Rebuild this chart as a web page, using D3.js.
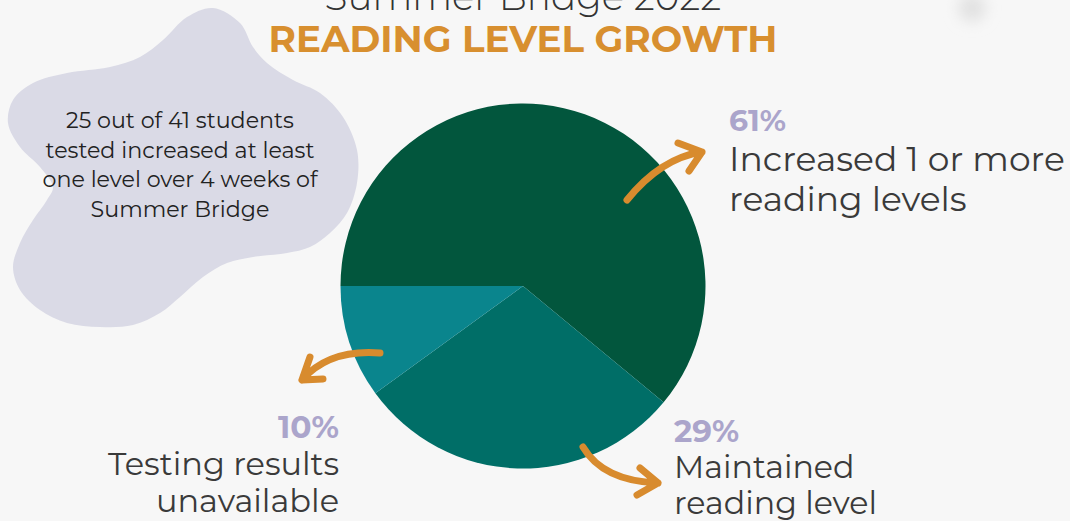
<!DOCTYPE html>
<html>
<head>
<meta charset="utf-8">
<script src="https://cdn.jsdelivr.net/npm/d3@7/dist/d3.min.js"></script>
<style>
  html, body { margin: 0; padding: 0; background: #F7F7F7; }
  svg { display: block; }
</style>
</head>
<body>
<svg id="chart" width="1070" height="521"></svg>
<script>
// ---------- data ----------
const categories = ["Increased 1 or more reading levels", "Maintained reading level", "Testing results unavailable"];
const values = [61, 29, 10];
const percentLabels = ["61%", "29%", "10%"];
const labelLines = [["Increased 1 or more", "reading levels"], ["Maintained", "reading level"], ["Testing results", "unavailable"]];
const titleLines = ["Summer Bridge 2022", "READING LEVEL GROWTH"];
const noteLines = ["25 out of 41 students", "tested increased at least", "one level over 4 weeks of", "Summer Bridge"];

// ---------- styles / layout ----------
const sliceColors = ["#02563D", "#006E67", "#0A858D"];
const FONT = "Montserrat, 'DejaVu Sans', 'Noto Sans', sans-serif";
const W = 1070, H = 521;
const cx = 523, cy = 286, R = 182.5;

const svg = d3.select("#chart");
svg.append("rect").attr("width", W).attr("height", H).attr("fill", "#F7F7F7");

const defs = svg.append("defs");
defs.append("filter").attr("id", "blur").attr("x", "-100%").attr("y", "-100%").attr("width", "300%").attr("height", "300%")
  .append("feGaussianBlur").attr("stdDeviation", 7);
svg.append("ellipse").attr("cx", 972).attr("cy", 8).attr("rx", 14).attr("ry", 14)
  .attr("fill", "#e2e2e2").attr("filter", "url(#blur)");

// decorative blob behind the note
const blobPts = [[213,8],[240,23],[253,47],[267,63],[293,80],[320,93],[343,117],[357,150],[357,183],[347,213],[330,233],[310,247],[287,253],[253,257],[227,263],[203,277],[180,297],[160,313],[133,325],[100,327],[67,323],[40,310],[20,290],[13,267],[20,243],[33,220],[47,200],[53,187],[40,167],[20,147],[8,123],[13,100],[33,83],[67,73],[110,67],[140,57],[163,40],[187,17]];
svg.append("path")
  .attr("d", d3.line().curve(d3.curveCatmullRomClosed.alpha(0.5))(blobPts))
  .attr("fill", "#DADAE6");

// fit helper: scale font-size so that the widest line matches target width
function fitSize(texts, base, weight, target) {
  const t = svg.append("text").style("font-family", FONT).style("font-size", base + "px").style("font-weight", weight);
  let maxW = 0;
  texts.forEach(s => { t.text(s); maxW = Math.max(maxW, t.node().getComputedTextLength()); });
  t.remove();
  return base * target / maxW;
}

// titles
const t1 = fitSize([titleLines[0]], 40, 300, 397);
svg.append("text").attr("x", cx).attr("y", 10).attr("text-anchor", "middle")
  .style("font-family", FONT).style("font-weight", 300).style("font-size", t1 + "px")
  .attr("fill", "#333333").text(titleLines[0]);
const t2 = fitSize([titleLines[1]], 37, 700, 509);
svg.append("text").attr("x", cx).attr("y", 52).attr("text-anchor", "middle")
  .style("font-family", FONT).style("font-weight", 700).style("font-size", t2 + "px")
  .attr("fill", "#D88F2F").text(titleLines[1]);

// note text
const ns = fitSize([noteLines[1]], 20, 400, 269);
noteLines.forEach((s, i) => {
  svg.append("text").attr("x", 180).attr("y", 128 + i * 29.7).attr("text-anchor", "middle")
    .style("font-family", FONT).style("font-size", ns + "px").attr("fill", "#222222").text(s);
});

// ---------- pie ----------
const pie = d3.pie().sort(null).value(d => d).startAngle(-Math.PI / 2).endAngle(3 * Math.PI / 2);
const arc = d3.arc().innerRadius(0).outerRadius(R);
const arcs = pie(values);
svg.append("g").attr("transform", `translate(${cx},${cy})`)
  .selectAll("path").data(arcs).join("path")
  .attr("d", arc).attr("fill", (d, i) => sliceColors[i]);

// ---------- arrows ----------
const arrowColor = "#D88B2E";
const arrows = [
  { p0: [627, 200], c: [661, 158], p1: [702, 152], b1: [678, 143], b2: [689, 171] },
  { p0: [380, 353], c: [329, 349], p1: [302, 380], b1: [310, 357], b2: [323, 379] },
  { p0: [583, 447], c: [603, 481], p1: [658, 483], b1: [640, 468], b2: [637, 495] }
];
arrows.forEach(a => {
  const p = d3.path();
  p.moveTo(a.p0[0], a.p0[1]);
  p.quadraticCurveTo(a.c[0], a.c[1], a.p1[0], a.p1[1]);
  p.moveTo(a.b1[0], a.b1[1]);
  p.lineTo(a.p1[0], a.p1[1]);
  p.lineTo(a.b2[0], a.b2[1]);
  svg.append("path").attr("d", p.toString()).attr("fill", "none")
    .attr("stroke", arrowColor).attr("stroke-width", 7)
    .attr("stroke-linecap", "round").attr("stroke-linejoin", "round");
});

// ---------- labels ----------
const labelLayout = [
  { x: 729, anchor: "start", pctY: 131, pctW: 57, y0: 171, lh: 40, widest: 336 },
  { x: 674, anchor: "start", pctY: 441.5, pctW: 65, y0: 478, lh: 36, widest: 203 },
  { x: 339, anchor: "end", pctY: 438, pctW: 61, y0: 475, lh: 36.5, widest: 231 }
];
arcs.forEach((d, i) => {
  const L = labelLayout[i];
  const ps = fitSize([percentLabels[i]], 29, 700, L.pctW);
  svg.append("text").attr("x", L.x).attr("y", L.pctY).attr("text-anchor", L.anchor)
    .style("font-family", FONT).style("font-weight", 700).style("font-size", ps + "px")
    .attr("fill", "#ABA5CB").text(percentLabels[i]);
  const fs = fitSize(labelLines[i], 34, 400, L.widest);
  labelLines[i].forEach((s, j) => {
    svg.append("text").attr("x", L.x).attr("y", L.y0 + j * L.lh).attr("text-anchor", L.anchor)
      .style("font-family", FONT).style("font-weight", 400).style("font-size", fs + "px")
      .attr("fill", "#3A3A3A").text(s);
  });
});
</script>
</body>
</html>
